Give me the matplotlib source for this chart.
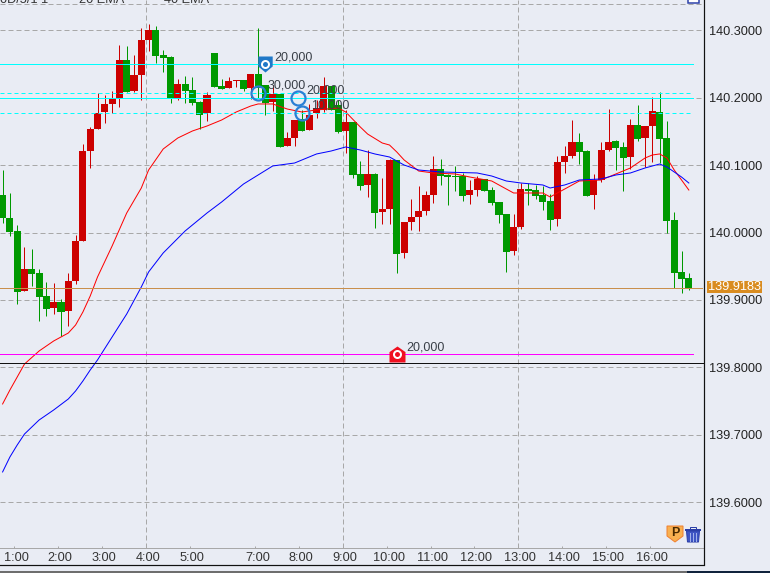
import matplotlib
matplotlib.use('Agg')
import matplotlib.pyplot as plt
from matplotlib.patches import Rectangle, Polygon
from matplotlib.path import Path
from matplotlib.transforms import ScaledTranslation

plt.rcParams['font.family'] = ['Liberation Sans', 'DejaVu Sans']

# candles, oldest first
opens = [140.0558, 140.0217, 140.0024, 139.9134, 139.9460, 139.9401, 139.9059, 139.8881, 139.8970, 139.8837,
         139.9282, 139.9876, 140.1211, 140.1538, 140.1790, 140.1909, 140.1983, 140.2562, 140.2102, 140.2339,
         140.2858, 140.3007, 140.2636, 140.2606, 140.1998, 140.2205, 140.2116, 140.1938, 140.1775, 140.2665,
         140.2176, 140.2146, 140.2250, 140.2265, 140.2146, 140.2354, 140.2191, 140.1938, 140.2057, 140.1285,
         140.1404, 140.1686, 140.1523, 140.1775, 140.1820, 140.2176, 140.1894, 140.1508, 140.1642, 140.0870,
         140.0707, 140.0870, 140.0306, 140.0350, 140.1078, 139.9698, 140.0158, 140.0232, 140.0321, 140.0558,
         140.0944, 140.0855, 140.0840, 140.0840, 140.0558, 140.0632, 140.0796, 140.0632, 140.0454, 140.0276,
         139.9727, 140.0084, 140.0647, 140.0632, 140.0558, 140.0469, 140.0202, 140.1048, 140.1137, 140.1345,
         140.1211, 140.0558, 140.0781, 140.1226, 140.1360, 140.1271, 140.1122, 140.1597, 140.1404, 140.1582,
         140.1790, 140.1404, 140.0187, 139.9416, 139.9327]
highs = [140.0929, 140.0588, 140.0113, 139.9787, 139.9757, 139.9460, 139.9267, 139.9252, 139.9015, 139.9401,
         139.9965, 140.1315, 140.1567, 140.2072, 140.2042, 140.2102, 140.2784, 140.2769, 140.2636, 140.3036,
         140.3096, 140.3066, 140.2710, 140.2621, 140.2280, 140.2324, 140.2309, 140.1953, 140.2087, 140.2665,
         140.2280, 140.2309, 140.2265, 140.2265, 140.2354, 140.3036, 140.2191, 140.2191, 140.2057, 140.1493,
         140.1671, 140.1820, 140.1909, 140.1968, 140.2309, 140.2176, 140.1968, 140.1820, 140.1642, 140.1063,
         140.1226, 140.0885, 140.0810, 140.1092, 140.1078, 140.0158, 140.0499, 140.0692, 140.0618, 140.1137,
         140.1092, 140.0870, 140.0989, 140.0885, 140.0781, 140.0840, 140.0796, 140.0677, 140.0454, 140.0276,
         140.0276, 140.0736, 140.0736, 140.0707, 140.0692, 140.0573, 140.1137, 140.1285, 140.1671, 140.1478,
         140.1226, 140.0870, 140.1345, 140.1834, 140.1374, 140.1345, 140.1686, 140.1894, 140.1582, 140.2013,
         140.2087, 140.1656, 140.0306, 139.9727, 139.9401]
lows = [140.0143, 139.9950, 139.8941, 139.9134, 139.9208, 139.8688, 139.8763, 139.8792, 139.8466, 139.8614,
        139.9237, 139.9876, 140.0959, 140.1538, 140.1627, 140.1775, 140.1864, 140.2087, 140.2087, 140.1968,
        140.2695, 140.2517, 140.2384, 140.1924, 140.1968, 140.1924, 140.1894, 140.1538, 140.1656, 140.2161,
        140.2131, 140.2146, 140.2161, 140.2102, 140.1983, 140.1998, 140.1745, 140.1805, 140.1271, 140.1285,
        140.1285, 140.1508, 140.1523, 140.1701, 140.1790, 140.1820, 140.1478, 140.1182, 140.0810, 140.0632,
        140.0529, 140.0069, 140.0128, 140.0128, 139.9401, 139.9623, 140.0039, 140.0024, 140.0261, 140.0440,
        140.0707, 140.0410, 140.0618, 140.0469, 140.0425, 140.0543, 140.0618, 140.0410, 140.0143, 139.9416,
        139.9668, 140.0054, 140.0410, 140.0499, 140.0336, 140.0039, 140.0098, 140.0885, 140.1107, 140.1018,
        140.0543, 140.0350, 140.0751, 140.1211, 140.0929, 140.0618, 140.0944, 140.1360, 140.0974, 140.1048,
        140.1033, 139.9994, 139.9178, 139.9104, 139.9148]
closes = [140.0217, 140.0009, 139.9119, 139.9460, 139.9386, 139.9044, 139.8867, 139.8970, 139.8822, 139.9282,
          139.9876, 140.1211, 140.1538, 140.1775, 140.1909, 140.1983, 140.2562, 140.2087, 140.2339, 140.2858,
          140.3007, 140.2621, 140.2591, 140.1998, 140.2205, 140.2102, 140.1924, 140.1745, 140.2042, 140.2161,
          140.2131, 140.2250, 140.2265, 140.2131, 140.2354, 140.2146, 140.1924, 140.2057, 140.1271, 140.1404,
          140.1671, 140.1508, 140.1745, 140.1849, 140.2176, 140.1820, 140.1493, 140.1642, 140.0855, 140.0692,
          140.0870, 140.0291, 140.0350, 140.1078, 139.9683, 140.0158, 140.0232, 140.0321, 140.0558, 140.0944,
          140.0840, 140.0825, 140.0825, 140.0543, 140.0632, 140.0796, 140.0618, 140.0440, 140.0261, 139.9712,
          140.0084, 140.0647, 140.0618, 140.0543, 140.0454, 140.0187, 140.1048, 140.1137, 140.1345, 140.1196,
          140.0543, 140.0781, 140.1226, 140.1345, 140.1256, 140.1107, 140.1597, 140.1389, 140.1582, 140.1805,
          140.1389, 140.0172, 139.9401, 139.9312, 139.9163]

ema20_idx = [0, 1, 2, 3, 5, 7, 9, 10, 11, 12, 13, 15, 17, 19, 20, 22, 24, 26, 28, 30, 32, 34, 35, 37, 39, 41, 43, 46,
             47, 49, 50, 52, 53, 54, 55, 57, 59, 62, 64, 67, 69, 70, 74, 75, 77, 79, 82, 84, 86, 88, 89, 90, 91, 92, 93, 94]
ema20_val = [139.7457, 139.7664, 139.7857, 139.8050, 139.8243, 139.8392, 139.8510, 139.8629, 139.8822, 139.9059,
             139.9341, 139.9801, 140.0291, 140.0662, 140.0929, 140.1241, 140.1404, 140.1508, 140.1582, 140.1671,
             140.1790, 140.1879, 140.1909, 140.1909, 140.1834, 140.1790, 140.1820, 140.1849, 140.1790, 140.1567,
             140.1463, 140.1330, 140.1300, 140.1196, 140.1078, 140.0914, 140.0885, 140.0870, 140.0825, 140.0766,
             140.0647, 140.0588, 140.0588, 140.0529, 140.0647, 140.0766, 140.0781, 140.0870, 140.0959, 140.1107,
             140.1152, 140.1167, 140.1107, 140.0929, 140.0781, 140.0632]
ema40_idx = [0, 1, 2, 3, 5, 7, 9, 10, 11, 12, 13, 15, 17, 19, 20, 22, 25, 28, 30, 33, 35, 37, 40, 43, 45, 47, 49, 51,
             53, 55, 57, 60, 65, 67, 69, 71, 74, 75, 77, 79, 82, 84, 86, 88, 90, 91, 92, 93, 94]
ema40_val = [139.6448, 139.6670, 139.6848, 139.7011, 139.7219, 139.7368, 139.7531, 139.7650, 139.7798, 139.7961,
             139.8110, 139.8451, 139.8792, 139.9193, 139.9416, 139.9698, 140.0024, 140.0291, 140.0454, 140.0721,
             140.0855, 140.0989, 140.1033, 140.1167, 140.1211, 140.1271, 140.1226, 140.1167, 140.1122, 140.1003,
             140.0929, 140.0900, 140.0885, 140.0840, 140.0766, 140.0736, 140.0707, 140.0662, 140.0707, 140.0781,
             140.0796, 140.0855, 140.0885, 140.0959, 140.1018, 140.0974, 140.0900, 140.0825, 140.0736]

hour_idx = [2, 8, 14, 20, 26, 35, 41, 47, 53, 59, 65, 71, 77, 83, 89]
hour_labels = ['1:00', '2:00', '3:00', '4:00', '5:00', '7:00', '8:00', '9:00', '10:00', '11:00',
               '12:00', '13:00', '14:00', '15:00', '16:00']
grid_hours = [20, 47, 71]
price_ticks = [139.6, 139.7, 139.8, 139.9, 140.0, 140.1, 140.2, 140.3]
top_grid = 140.3387

solid_levels = [140.25, 140.2]
dashed_levels = [140.2075, 140.178]
stop_level = 139.8194
black_level = 139.806
last_price = 139.9183

ring_idx = [35, 40.4, 41]
ring_price = [140.2075, 140.2, 140.178]
ring_labels = ['30,000', '20,000', '10,000']
pin_idx, pin_price, pin_label = 36, 140.25, '20,000'
home_idx, home_price, home_label = 54, 139.8194, '20,000'

W, H = 770, 573
BG = '#e9ecf4'
RED = '#cc0000'
GREEN = '#009900'
PX = 0.72  # one pixel in points at dpi 100

fig = plt.figure(figsize=(W / 100, H / 100), dpi=100, facecolor=BG)
ax = fig.add_axes([0, (H - 547.7) / H, 703.5 / W, 547.7 / H], facecolor=BG)
ax.set_xlim(-0.356, 96.01)
ax.set_ylim(139.5324, 140.3452)

dash = (0, (5, 3))
for p in price_ticks + [top_grid]:
    ax.plot([-0.356, 95.8], [p, p], color='#a8a8a8', lw=PX, ls=dash, zorder=1)
for h in grid_hours:
    ax.axvline(h - 0.38, color='#a8a8a8', lw=PX, ls=dash, zorder=1)

# candles
for i in range(len(opens)):
    col = RED if closes[i] >= opens[i] else GREEN
    ax.vlines(i, lows[i], highs[i], color=col, lw=PX, zorder=2)
    ax.bar(i, max(abs(closes[i] - opens[i]), 0.0008), bottom=min(opens[i], closes[i]), width=0.97,
           color=col, linewidth=0, zorder=3)

ax.plot(ema20_idx, ema20_val, color='#ff0000', lw=PX, zorder=4)
ax.plot(ema40_idx, ema40_val, color='#0000ff', lw=PX, zorder=4)

for p in solid_levels:
    ax.plot([-0.356, 94.6], [p, p], color='#00ffff', lw=PX, zorder=5)
for p in dashed_levels:
    ax.plot([-0.356, 94.6], [p, p], color='#00ffff', lw=PX, ls=(0, (4, 3)), zorder=5)
ax.plot([-0.356, 94.6], [stop_level, stop_level], color='#ff00ff', lw=PX, zorder=5)
ax.plot([-0.356, 95.8], [last_price, last_price], color='#c98f4c', lw=PX, zorder=5)
ax.axhline(black_level, color='#111111', lw=PX, zorder=5)

# order markers
BLUE = '#2a7fd5'
txt = dict(textcoords='offset points', xytext=(6.5, 5), va='center', ha='left', fontsize=9,
           color='#3a4048', zorder=8)
for i, p, s in zip(ring_idx, ring_price, ring_labels):
    ax.plot(i, p, marker='o', ms=14 * PX, mfc='none', mec=BLUE, mew=2.2 * PX, zorder=7)
    ax.annotate(s, (i, p), **txt)

pin = Path([(-0.9, 1), (0.9, 1), (0.9, -0.25), (0, -1), (-0.9, -0.25), (-0.9, 1)])
ax.plot(pin_idx, pin_price, marker=pin, ms=16 * PX, mfc='#1f78c8', mec='none', zorder=7)
ax.plot(pin_idx, pin_price, marker='o', ms=7 * PX, mfc='#1f78c8', mec='white', mew=2 * PX, zorder=7)
ax.annotate(pin_label, (pin_idx, pin_price), **txt)

home = Path([(0, 1), (1, 0.3), (1, -1), (-1, -1), (-1, 0.3), (0, 1)])
ax.plot(home_idx, home_price, marker=home, ms=16 * PX, mfc='#f01020', mec='none', zorder=7)
ax.plot(home_idx, home_price, marker='o', ms=7 * PX, mfc='#f01020', mec='white', mew=2 * PX, zorder=7)
ax.annotate(home_label, (home_idx, home_price), **txt)

# axes
for side in ['top', 'left', 'right']:
    ax.spines[side].set_visible(False)
ax.spines['bottom'].set_color('#a8a8a8')
ax.spines['bottom'].set_linewidth(PX)
ax.set_xticks([h - 0.38 for h in hour_idx])
ax.set_xticklabels(hour_labels, fontsize=9.2, color='#333333')
ax.tick_params(axis='x', direction='in', length=2 * PX, width=PX, color='#a8a8a8', pad=3)
shift = ScaledTranslation(2 / 100, 0, fig.dpi_scale_trans)
for lb in ax.get_xticklabels():
    lb.set_transform(lb.get_transform() + shift)
ax.set_yticks(price_ticks)
ax.set_yticklabels(['%.4f' % p for p in price_ticks], fontsize=9.2, color='#222222')
ax.tick_params(axis='y', left=False, labelleft=False, right=False, labelright=True, length=0, pad=4)

# pixel overlay for the window furniture
ov = fig.add_axes([0, 0, 1, 1], facecolor='none')
ov.set_xlim(0, W)
ov.set_ylim(H, 0)
ov.axis('off')
ov.plot([703.5, 703.5], [0, 564], color='#111111', lw=PX * 1.2)
ov.plot([0, 703.5], [564.5, 564.5], color='#111111', lw=PX * 1.2)
ov.add_patch(Rectangle((0, 571), 687, 2, color='#6e6e6e', lw=0))
ov.add_patch(Rectangle((687, 571), 83, 2, color='#10233c', lw=0))

for s, x in [('0D/5/1 1', 0), ('20 EMA', 79), ('40 EMA', 164)]:
    ov.text(x, 3, s, fontsize=9.2, color='#333333', va='baseline', ha='left')

ov.add_patch(Rectangle((707, 281), 55, 12, color='#d98c20', lw=0))
ov.text(734.5, 287.3, '139.9183', fontsize=9.2, color='white', va='center', ha='center')

# P badge and trash can
ov.add_patch(Polygon([(667, 526), (683, 526), (683, 536), (675, 542), (667, 536)], fc='#f8b050', ec='#f08030', lw=PX))
ov.text(675, 532.5, 'P', fontsize=9, fontweight='bold', color='#4a2a00', va='center', ha='center')
ov.add_patch(Rectangle((685, 529), 16, 2, color='#2b3fa8', lw=0))
ov.add_patch(Rectangle((690, 526.5), 6, 2.5, fc='none', ec='#2b3fa8', lw=PX))
ov.add_patch(Polygon([(686.5, 531), (699.5, 531), (698.5, 542), (687.5, 542)], fc='#3e55c4', ec='#2b3fa8', lw=PX))
for x in (690, 693, 696):
    ov.plot([x, x], [533, 540.5], color='#9fb0ea', lw=PX)
ov.add_patch(Rectangle((687.5, -2), 11, 4.5, fc='white', ec='#2b3fa8', lw=PX * 1.5))

fig.savefig('out.png', dpi=100, facecolor=BG)
